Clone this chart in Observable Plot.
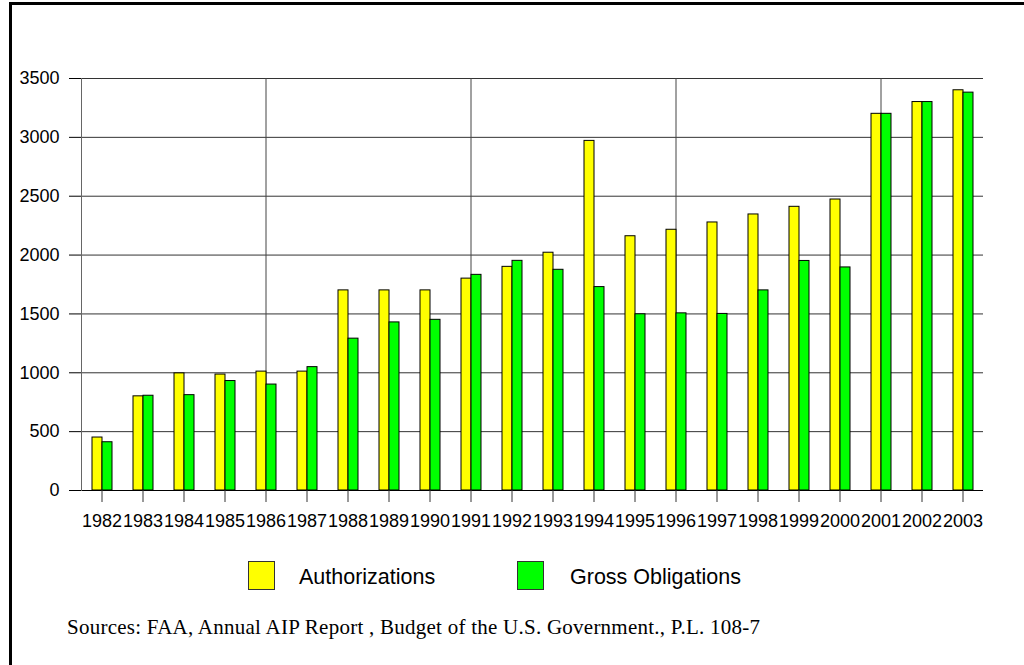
<!DOCTYPE html>
<html>
<head>
<meta charset="utf-8">
<script src="https://cdn.jsdelivr.net/npm/d3@7"></script>
<script src="https://cdn.jsdelivr.net/npm/@observablehq/plot@0.6"></script>
<style>
  html, body { margin: 0; padding: 0; background: #fff; }
  #wrap { position: relative; width: 1024px; height: 665px; overflow: hidden; background: #fff;
          font-family: "Liberation Sans", Arial, sans-serif; }
  #chart { position: absolute; left: 0; top: 0; }
  .border-top { position: absolute; left: 9px; top: 2px; width: 1015px; height: 3px; background: #000; z-index: 5; }
  .border-left { position: absolute; left: 9px; top: 2px; width: 3px; height: 663px; background: #000; z-index: 5; }
  .swatch { position: absolute; top: 561px; width: 27px; height: 29px; box-sizing: border-box; border: 1px solid #333; }
  .legtext { position: absolute; top: 567px; font-size: 21.5px; line-height: 21.5px; color: #000; white-space: nowrap; }
  #source { position: absolute; left: 67px; top: 616px; font-family: "Liberation Serif", "Times New Roman", serif;
            font-size: 21px; letter-spacing: 0.25px; line-height: 22px; color: #000; white-space: nowrap; }
</style>
</head>
<body>
<div id="wrap">
  <div class="border-top"></div>
  <div class="border-left"></div>
  <div id="chart"></div>
  <div id="legend"></div>
  <div id="source"></div>
</div>
<script>
const years = [1982, 1983, 1984, 1985, 1986, 1987, 1988, 1989, 1990, 1991, 1992,
               1993, 1994, 1995, 1996, 1997, 1998, 1999, 2000, 2001, 2002, 2003];
const authorizations = [450, 800, 995, 985, 1010, 1010, 1700, 1700, 1700, 1800, 1900,
                        2020, 2970, 2160, 2215, 2277, 2345, 2410, 2472, 3200, 3300, 3400];
const grossObligations = [410, 805, 810, 930, 900, 1048, 1290, 1428, 1450, 1832, 1951,
                          1875, 1728, 1497, 1505, 1500, 1700, 1950, 1895, 3200, 3300, 3380];
const seriesNames = ["Authorizations", "Gross Obligations"];
const seriesColors = ["#ffff00", "#00ff00"];
const yTicks = [0, 500, 1000, 1500, 2000, 2500, 3000, 3500];
const gridYears = [1986, 1991, 1996, 2001];
const sourceText = "Sources: FAA, Annual AIP Report , Budget of the U.S. Government., P.L. 108-7";

const data = years.flatMap((yr, i) => [
  {year: yr, series: seriesNames[0], value: authorizations[i]},
  {year: yr, series: seriesNames[1], value: grossObligations[i]}
]);

const chart = Plot.plot({
  width: 1024,
  height: 540,
  marginLeft: 77,
  marginRight: 38,
  marginTop: 78,
  marginBottom: 50,
  style: {fontFamily: '"Liberation Sans", Arial, sans-serif', fontSize: "18px", color: "#000", background: "transparent", overflow: "visible"},
  fx: {domain: years, padding: 0, label: null},
  x: {domain: seriesNames, paddingInner: 0, paddingOuter: 1, axis: null},
  y: {domain: [0, 3500], label: null},
  color: {domain: seriesNames, range: seriesColors},
  marks: [
    Plot.gridY({ticks: yTicks, stroke: "#333", strokeOpacity: 1}),
    Plot.gridFx({ticks: gridYears, stroke: "#444", strokeOpacity: 1}),
    Plot.barY(data, {fx: "year", x: "series", y: "value", fill: "series", stroke: "#000", strokeWidth: 1}),
    Plot.ruleY([0], {stroke: "#000"}),
    Plot.axisY({ticks: yTicks, tickSize: 12, tickPadding: 10, fontSize: 18, label: null, stroke: "#000", tickFormat: d => String(d)}),
    Plot.axisFx({anchor: "bottom", tickSize: 12, tickPadding: 12, fontSize: 18, label: null, tickFormat: d => String(d), stroke: "#333"}),
    Plot.frame({anchor: "left", facetAnchor: "left", stroke: "#666"})
  ]
});
document.getElementById("chart").appendChild(chart);

// legend
const legend = document.getElementById("legend");
const swatchLeft = [248, 517];
const textLeft = [299, 570];
seriesNames.forEach((name, i) => {
  const sw = document.createElement("div");
  sw.className = "swatch";
  sw.style.left = swatchLeft[i] + "px";
  sw.style.background = seriesColors[i];
  legend.appendChild(sw);
  const t = document.createElement("div");
  t.className = "legtext";
  t.style.left = textLeft[i] + "px";
  t.textContent = name;
  legend.appendChild(t);
});
document.getElementById("source").textContent = sourceText;
</script>
</body>
</html>
